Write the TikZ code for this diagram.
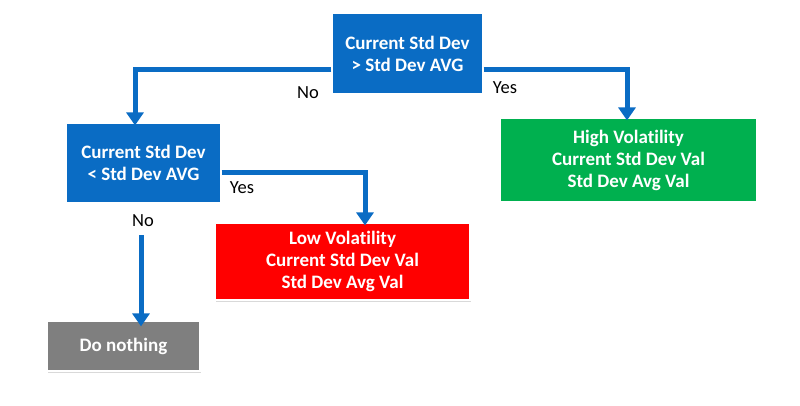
\documentclass[tikz,border=0pt]{standalone}
\usepackage{fontspec}
\setmainfont{Carlito}[Ligatures=NoCommon]
\usetikzlibrary{arrows.meta,shadows}
\definecolor{boxblue}{HTML}{0A6CC4}
\definecolor{boxgreen}{HTML}{00B04F}
\definecolor{boxred}{HTML}{FF0000}
\definecolor{boxgray}{HTML}{7F7F7F}
\tikzset{
  box/.style={draw=white, line width=1.2pt, text=white, align=center,
    font=\fontsize{19}{22}\selectfont\bfseries, inner sep=0pt,
    drop shadow={shadow xshift=1pt, shadow yshift=-1.5pt, opacity=0.3, fill=black!50}},
  conn/.style={draw=boxblue, line width=5pt, -{Triangle[width=17pt,length=13pt]}},
  lbl/.style={font=\fontsize{18.5}{20}\selectfont, text=black, inner sep=0pt}
}
\begin{document}
\begin{tikzpicture}[x=1pt,y=-1pt]
\useasboundingbox (0,0) rectangle (800,406);
\node[box, fill=boxblue, minimum width=151pt, minimum height=81pt] (top) at (407.5,53.5) {Current Std Dev\\> Std Dev AVG};
\node[box, fill=boxblue, minimum width=155pt, minimum height=80pt] (lt) at (143.5,163) {Current Std Dev\\< Std Dev AVG};
\node[box, fill=boxgreen, minimum width=257pt, minimum height=84pt] (high) at (628.5,160) {High Volatility\\Current Std Dev Val\\Std Dev Avg Val};
\node[box, fill=boxred, minimum width=255pt, minimum height=77pt] (low) at (342.5,261.5) {Low Volatility\\Current Std Dev Val\\Std Dev Avg Val};
\node[box, fill=boxgray, minimum width=153pt, minimum height=50pt] (nothing) at (123.5,346) {Do nothing};
\coordinate (ta) at (332,70);
\coordinate (tb) at (483,70);
\coordinate (lb) at (221,173);
\coordinate (ls) at (141,235);
\draw[conn, line join=miter] (top.west |- ta) -| ([xshift=-8.5pt,yshift=-3pt]lt.north);
\draw[conn, line join=miter] (top.east |- tb) -| ([xshift=-1.5pt,yshift=-3pt]high.north);
\draw[conn, line join=miter] (lt.east |- lb) -| ([xshift=22.5pt,yshift=-3pt]low.north);
\draw[conn] (ls) -- ([yshift=-6pt]nothing.north -| ls);
\node[lbl] (no1) at (308,93) {No};
\node[lbl] (yes1) at (505,88) {Yes};
\node[lbl] (yes2) at (242,188) {Yes};
\node[lbl] (no2) at (143,221) {No};
\end{tikzpicture}
\end{document}
